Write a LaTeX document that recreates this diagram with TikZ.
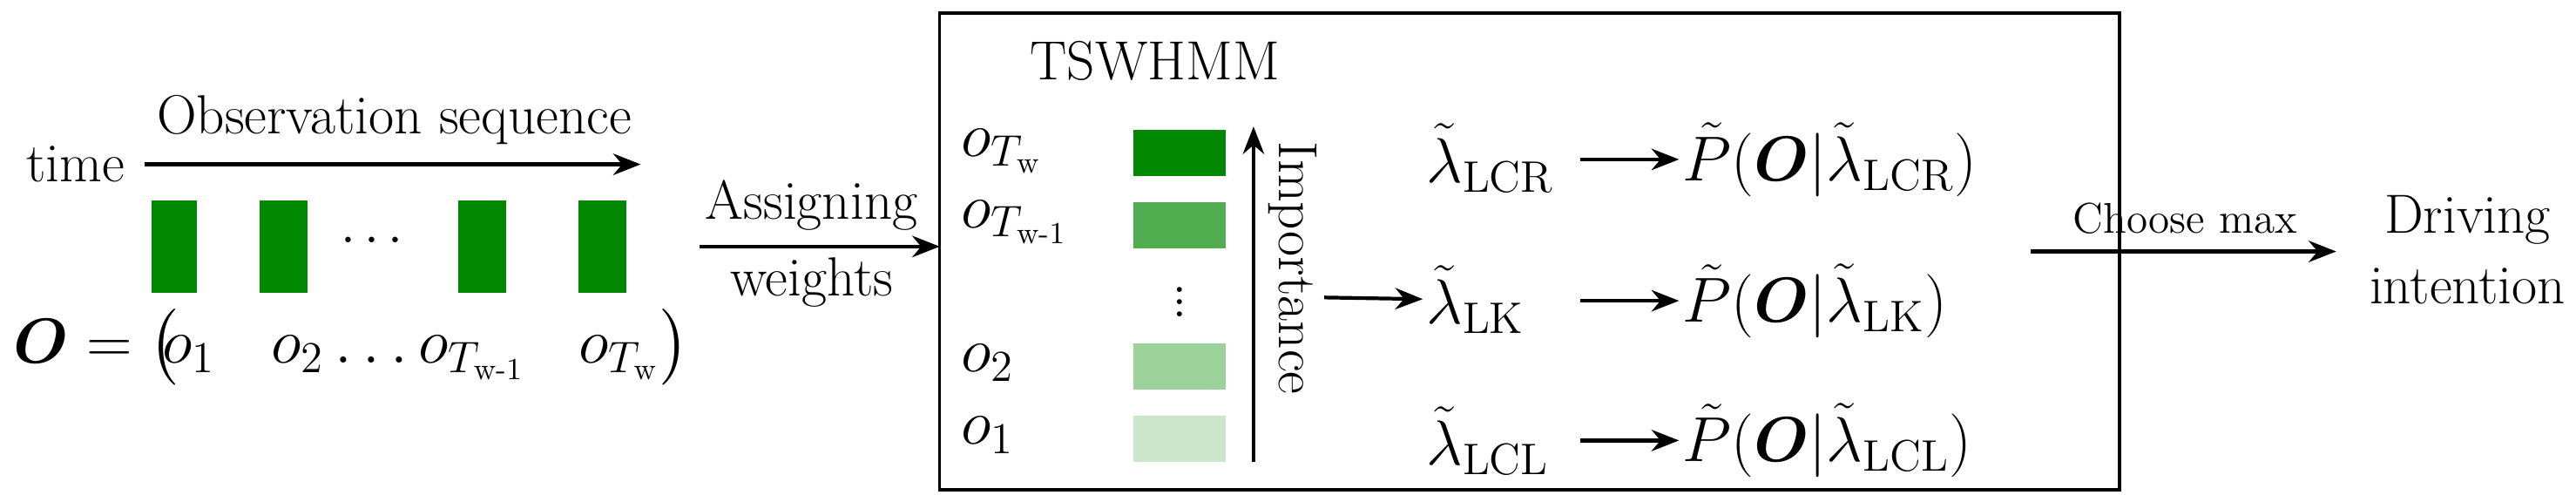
\documentclass[tikz,border=0pt]{standalone}
\usepackage{amsmath,bm}
\usetikzlibrary{arrows.meta}
\definecolor{g1}{RGB}{0,136,0}
\definecolor{g2}{RGB}{80,174,80}
\definecolor{g3}{RGB}{155,209,155}
\definecolor{g4}{RGB}{203,231,203}
\begin{document}
\begin{tikzpicture}[x=0.01886cm,y=-0.01886cm,
  every node/.style={font=\fontsize{18}{21}\selectfont, inner sep=1pt},
  m/.style={font=\fontsize{20}{23}\selectfont},
  arr/.style={-{Stealth[length=9pt,width=7pt]}, line width=1.2pt}]
\useasboundingbox (0,0) rectangle (1568,305);
% left
\node (time) at (46,100) {time};
\node (obs) at (240,73) {Observation sequence};
\coordinate (ts) at (88,100); \coordinate (te) at (390,100);
\draw[arr] (ts) -- (te);
\fill[g1] (92,122) rectangle (120,178);
\fill[g1] (158,122) rectangle (187,178);
\fill[g1] (279,122) rectangle (308,178);
\fill[g1] (352,122) rectangle (381,178);
\node (hd) at (229,147) {$\cdots$};
\node[m, anchor=base west] (Oeq) at (6,221) {$\bm{O}=\big($};
\node[m, anchor=base] (o1) at (115,221) {$o_1$};
\node[m, anchor=base west] (o2) at (163,221) {$o_2\ldots o_{T_{\mathrm{w}\text{-}1}}$};
\node[m, anchor=base west] (oT) at (350,221) {$o_{T_{\mathrm{w}}}\big)$};
% assigning
\coordinate (as) at (426,150); \coordinate (ae) at (572,150);
\draw[arr] (as) -- (ae);
\node (asg) at (494,125) {Assigning};
\node (wts) at (494,172) {weights};
% box
\draw[line width=1pt] (572,8) rectangle (1290,298);
\node (title) at (703,37) {TSWHMM};
\node[m, anchor=west] (lT) at (583,92) {$o_{T_{\mathrm{w}}}$};
\node[m, anchor=west] (lT1) at (583,135) {$o_{T_{\mathrm{w}\text{-}1}}$};
\node[m, anchor=west] (l2) at (583,221) {$o_2$};
\node[m, anchor=west] (l1) at (583,265) {$o_1$};
\fill[g1] (690,79) rectangle (746,107);
\fill[g2] (690,123) rectangle (746,151);
\fill[g3] (690,209) rectangle (746,237);
\fill[g4] (690,253) rectangle (746,281);
\node[m] (vd) at (718,178) {$\vdots$};
\coordinate (is) at (763,281); \coordinate (ie) at (763,77);
\draw[-{Stealth[length=9pt,width=7pt]}, line width=0.9pt] (is) -- (ie);
\node[rotate=-90] (imp) at (787,163) {Importance};
\coordinate (ks) at (806,181);
\node[m, anchor=west] (LCR) at (866,96) {$\tilde{\lambda}_{\mathrm{LCR}}$};
\node[m, anchor=west] (LK) at (866,182) {$\tilde{\lambda}_{\mathrm{LK}}$};
\node[m, anchor=west] (LCL) at (866,268) {$\tilde{\lambda}_{\mathrm{LCL}}$};
\draw[arr] (ks) -- (LK.west);
\node[m, anchor=west] (PCR) at (1022,97) {$\tilde{P}(\bm{O}|\tilde{\lambda}_{\mathrm{LCR}})$};
\node[m, anchor=west] (PK) at (1022,183) {$\tilde{P}(\bm{O}|\tilde{\lambda}_{\mathrm{LK}})$};
\node[m, anchor=west] (PCL) at (1022,268) {$\tilde{P}(\bm{O}|\tilde{\lambda}_{\mathrm{LCL}})$};
\coordinate (a1) at (962,97); \coordinate (a2) at (962,183); \coordinate (a3) at (962,268);
\draw[arr] (a1) -- (PCR.west);
\draw[arr] (a2) -- (PK.west);
\draw[arr] (a3) -- (PCL.west);
% right
\coordinate (cs) at (1236,153); \coordinate (ce) at (1422,153);
\draw[arr] (cs) -- (ce);
\node[font=\fontsize{14}{17}\selectfont] (cm) at (1330,133) {Choose max};
\node[align=center, font=\fontsize{18}{23}\selectfont] (di) at (1502,152) {Driving\\intention};
\end{tikzpicture}
\end{document}
